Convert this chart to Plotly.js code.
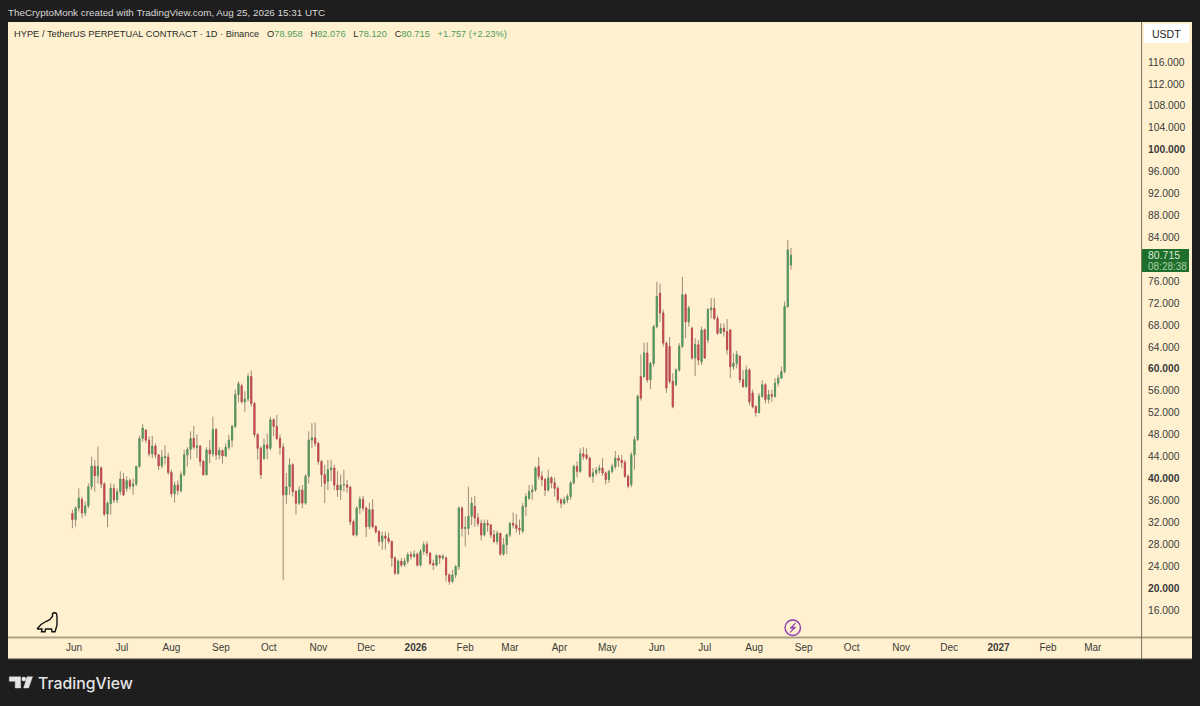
<!DOCTYPE html>
<html>
<head>
<meta charset="utf-8">
<script src="https://cdn.plot.ly/plotly-3.0.1.min.js"></script>
<style>html,body{margin:0;padding:0;background:#1e1e1e}#chart{width:1200px;height:706px}</style>
</head>
<body>
<div id="chart"></div>
<script>
// Candles, one every two days starting 2025-05-31
const firstDay = Date.UTC(2025, 4, 31);
const stepDays = 2;
const open = [33.6,32.5,34.6,36.2,33.7,35.0,38.5,42.2,40.5,41.9,
39.0,33.5,35.4,38.2,36.1,37.6,39.9,38.2,39.6,38.6,
39.0,42.2,47.3,48.8,47.0,44.5,45.9,44.3,42.3,43.8,
43.9,41.1,37.2,38.8,37.8,40.7,44.3,45.3,47.3,45.7,
45.9,43.1,40.7,45.2,44.5,48.9,44.3,45.1,44.1,45.7,
47.0,49.5,55.3,56.9,54.0,54.5,58.6,53.7,48.0,45.5,
43.7,46.1,45.5,50.7,49.5,47.3,45.7,37.0,38.5,42.5,
37.6,35.5,37.9,35.5,40.4,47.0,47.4,46.4,43.1,40.7,
39.5,41.6,41.9,38.8,37.9,38.8,38.8,38.4,32.1,29.7,
34.6,36.2,34.6,31.2,34.3,31.2,30.3,28.5,29.5,29.1,
28.5,25.5,22.7,24.9,24.2,24.9,26.1,25.8,26.2,24.2,
26.7,27.9,26.4,24.5,24.2,25.9,25.5,25.5,22.4,21.2,
22.4,23.9,34.6,30.9,30.9,33.1,34.9,32.8,31.8,29.7,
31.8,31.5,29.7,28.5,30.0,26.2,27.9,29.7,31.8,31.5,
30.9,30.4,34.9,36.4,37.6,37.9,42.2,40.4,39.8,37.9,
40.1,39.2,38.2,36.1,35.5,36.1,36.7,39.2,42.2,41.3,
44.5,44.3,43.7,40.4,41.0,41.5,41.9,41.0,39.8,41.3,
42.2,43.7,43.3,42.9,40.4,38.9,44.3,47.1,58.6,58.6,
62.9,58.0,61.0,67.7,73.8,70.2,64.7,64.1,57.7,57.1,
59.8,64.1,73.5,68.6,67.4,62.0,64.4,61.3,67.1,65.3,
70.8,71.1,69.2,66.5,67.4,66.8,67.1,60.4,61.0,62.3,
58.0,56.8,59.8,55.6,53.1,52.0,55.0,57.1,54.4,55.3,
55.0,57.4,58.3,59.5,71.4,78.958];
const close = [32.5,34.6,36.4,33.7,35.0,38.5,42.3,40.5,42.2,39.0,
33.5,35.5,38.2,36.1,37.6,39.9,37.0,39.6,38.6,39.0,
42.2,47.3,49.2,47.0,44.5,45.9,44.3,42.3,43.9,44.0,
41.1,37.2,38.8,37.8,40.7,44.3,45.3,47.3,45.7,45.9,
43.1,40.7,45.2,44.5,48.9,44.3,45.1,44.1,45.7,47.0,
49.5,55.3,57.3,54.0,54.5,58.6,53.7,48.0,45.5,40.7,
46.1,45.5,50.7,49.5,47.3,45.7,37.0,38.5,42.5,37.6,
35.5,37.9,35.5,40.4,47.0,47.4,46.4,43.1,40.7,39.1,
41.6,41.9,38.8,37.9,38.8,38.9,38.4,32.1,29.7,34.6,
36.2,34.6,31.2,34.3,31.2,30.3,28.5,29.5,29.1,28.5,
25.5,22.7,24.9,24.2,24.9,26.1,25.8,26.2,24.2,26.7,
27.9,26.4,24.5,24.2,25.9,25.5,25.8,22.4,21.2,22.4,
23.9,34.6,30.9,31.0,33.1,35.5,32.8,31.8,29.7,31.8,
31.5,29.7,28.5,30.0,26.2,27.9,29.7,31.8,31.5,30.9,
30.6,34.9,36.7,37.6,37.9,41.9,40.4,39.8,37.9,40.1,
39.2,38.2,36.1,35.5,36.1,36.7,39.2,42.2,41.3,44.5,
44.0,43.7,40.4,41.0,41.5,41.9,41.0,39.8,41.3,42.2,
43.7,43.3,42.9,40.4,38.6,44.3,47.1,55.0,54.7,62.9,
58.0,61.0,67.7,73.2,70.2,64.7,56.5,57.7,53.1,59.8,
64.1,73.5,68.6,71.1,62.0,64.4,61.6,67.1,62.0,70.8,
71.1,69.2,66.5,67.4,66.8,63.5,60.4,61.0,62.6,58.0,
56.8,59.8,54.0,53.1,52.0,55.0,57.1,54.4,55.3,55.0,
57.4,58.3,59.5,71.4,81.7,80.715];
const high = [34.3,34.9,38.2,36.7,35.8,39.1,44.0,43.4,45.8,42.2,
39.3,35.8,39.1,39.0,38.2,41.3,41.0,40.4,40.0,40.0,
42.2,47.8,49.9,49.0,47.7,47.8,46.4,44.5,45.2,46.1,
44.7,41.6,39.4,39.6,41.3,45.2,45.7,48.6,49.6,48.0,
46.1,43.4,45.7,47.0,51.3,49.2,45.7,45.3,46.4,48.0,
49.8,56.2,57.7,57.3,55.9,59.2,59.7,54.0,48.3,45.9,
47.3,48.2,51.2,51.0,51.6,48.0,46.4,41.0,43.7,42.8,
37.9,38.6,38.8,40.8,48.6,50.1,50.2,46.7,43.4,42.5,
43.4,43.4,42.5,41.3,40.7,41.6,39.7,38.7,32.5,34.9,
36.7,36.8,34.9,35.6,36.2,31.5,30.6,30.3,30.3,30.1,
28.7,25.8,25.2,25.5,25.5,26.5,26.7,26.9,26.5,27.1,
28.5,28.5,26.5,25.2,26.2,26.1,26.2,25.8,22.7,23.3,
24.2,34.9,34.9,33.1,38.5,36.6,36.8,33.7,32.5,32.5,
32.5,31.7,30.6,30.5,30.1,29.1,30.0,32.1,33.8,33.5,
32.5,35.5,37.3,38.8,38.8,42.2,43.9,41.3,40.1,41.6,
40.4,40.2,38.6,36.4,36.7,37.2,39.5,42.5,43.1,45.5,
45.7,45.5,44.0,41.9,42.1,42.5,43.7,41.3,41.6,42.7,
45.0,44.3,44.3,43.4,40.7,44.8,47.7,55.3,62.6,64.8,
64.8,61.3,68.0,75.9,75.6,70.8,65.0,65.8,59.2,60.1,
64.7,76.8,73.8,71.5,67.7,65.6,65.3,67.7,67.4,71.1,
72.9,72.9,69.7,68.3,68.3,69.1,67.2,62.9,63.3,62.4,
59.8,60.6,60.1,56.2,53.4,55.6,57.9,57.4,56.2,56.2,
58.3,58.9,60.4,72.3,83.5,82.076];
const low = [30.9,31.2,34.0,32.8,33.1,34.6,37.9,37.6,39.1,38.2,
33.1,31.1,33.4,35.5,35.5,37.0,36.8,37.6,38.0,37.0,
38.6,41.9,46.7,46.4,44.0,43.7,43.7,41.5,41.9,42.5,
40.7,36.6,35.6,37.0,37.4,40.4,42.2,43.5,45.3,43.7,
42.2,40.5,40.5,42.8,44.0,43.4,43.5,42.7,43.9,45.2,
45.7,49.2,53.9,53.7,52.2,54.0,53.1,47.5,43.4,39.9,
43.4,43.5,45.1,47.7,47.0,44.3,21.4,35.4,37.0,36.7,
33.4,35.2,34.6,35.2,39.1,45.5,45.8,42.5,38.5,35.5,
37.9,39.5,37.9,36.6,36.1,37.6,37.4,31.5,29.5,29.4,
33.5,34.0,29.3,30.7,30.9,29.9,27.7,27.0,27.0,28.1,
23.9,22.4,22.4,23.8,23.9,24.4,25.2,25.5,23.9,23.9,
26.1,25.8,24.2,23.3,23.9,24.4,25.2,21.2,20.6,20.9,
21.8,23.3,29.4,27.6,29.7,31.5,31.2,31.2,28.7,29.4,
30.3,29.1,28.2,27.9,25.9,25.9,26.2,29.3,30.9,30.1,
29.7,30.0,33.1,36.1,36.1,37.6,39.8,38.6,36.8,37.6,
38.2,36.7,35.5,34.6,35.2,35.5,36.1,38.9,40.2,41.0,
43.4,43.4,40.1,39.2,40.5,40.9,40.5,38.9,39.2,40.9,
41.7,42.1,41.9,40.1,38.2,38.4,41.6,46.8,54.2,58.3,
57.5,56.3,60.4,67.4,68.5,64.1,55.6,57.3,52.8,56.8,
59.5,63.8,65.6,67.7,61.6,58.7,60.7,60.7,61.8,64.7,
69.2,68.9,66.2,66.5,65.9,62.6,58.3,59.8,60.1,57.4,
56.5,56.5,53.4,52.8,51.3,51.9,54.7,53.7,53.7,54.0,
54.7,56.8,58.2,59.2,71.1,78.12];

const priceTicks = [16,20,24,28,32,36,40,44,48,52,56,60,64,68,72,76,84,88,92,96,100,104,108,112,116];
const boldPrices = [20,40,60,100];
const monthTicks = ['2025-06-01','2025-07-01','2025-08-01','2025-09-01','2025-10-01','2025-11-01','2025-12-01','2026-01-01','2026-02-01','2026-03-01','2026-04-01','2026-05-01','2026-06-01','2026-07-01','2026-08-01','2026-09-01','2026-10-01','2026-11-01','2026-12-01','2027-01-01','2027-02-01','2027-03-01'];
const monthLabels = ['Jun','Jul','Aug','Sep','Oct','Nov','Dec','<b>2026</b>','Feb','Mar','Apr','May','Jun','Jul','Aug','Sep','Oct','Nov','Dec','<b>2027</b>','Feb','Mar'];

const cream = '#FFF1CF', frame = '#1e1e1e', ink = '#2a2a2a';
const upColor = '#4c9a5c', downColor = '#c9434f', wickColor = 'rgba(125,105,92,0.75)';
const sans = '"Liberation Sans", Arimo, sans-serif';

const dates = open.map((_, i) => new Date(firstDay + i * stepDays * 864e5).toISOString().slice(0, 10));

// chrome helpers: picture pixels to paper fractions
const L = 8, R = 58, T = 22, B = 69;
const pw = 1200 - L - R, ph = 706 - T - B;
const fx = p => (p - L) / pw;
const fy = p => 1 - (p - T) / ph;
const rect = (x0, y0, x1, y1, fill, layer) => ({type:'rect', xref:'paper', yref:'paper', x0:fx(x0), x1:fx(x1), y0:fy(y0), y1:fy(y1), fillcolor:fill, line:{width:0}, layer:layer||'above'});
const seg = (x0, y0, x1, y1, color, w) => ({type:'line', xref:'paper', yref:'paper', x0:fx(x0), x1:fx(x1), y0:fy(y0), y1:fy(y1), line:{color:color, width:w}, layer:'above'});
const poly = (pts, stroke, w, fill) => ({type:'path', xref:'paper', yref:'paper', layer:'above', path:'M' + pts.map(p => fx(p[0]) + ',' + fy(p[1])).join(' L') + (fill ? ' Z' : ''), line:{color:stroke, width:w}, fillcolor:fill || 'rgba(0,0,0,0)'});
const txt = (x, y, text, size, color, anchor, weight, family) => ({xref:'paper', yref:'paper', x:fx(x), y:fy(y), text:text, showarrow:false, xanchor:anchor||'left', yanchor:'middle', align:'left', font:{family:family||sans, size:size, color:color, weight:weight||400}, borderpad:0, borderwidth:0});

const g = '#4f9d5e';
const gap = '&nbsp;&nbsp;&nbsp;';
const legendText = 'HYPE / TetherUS PERPETUAL CONTRACT · 1D · Binance'+gap+'O<span style="color:'+g+'">78.958</span>'+gap+'H<span style="color:'+g+'">82.076</span>'+gap+'L<span style="color:'+g+'">78.120</span>'+gap+'C<span style="color:'+g+'">80.715</span>'+gap+'<span style="color:'+g+'">+1.757 (+2.23%)</span>';

const traces = [
  {type:'candlestick', x:dates, open:open, close:close, high:high, low:low, hoverinfo:'skip', showlegend:false,
   increasing:{line:{color:wickColor, width:1}, fillcolor:'rgba(0,0,0,0)'},
   decreasing:{line:{color:wickColor, width:1}, fillcolor:'rgba(0,0,0,0)'}, whiskerwidth:0},
  {type:'candlestick', x:dates, open:open, close:close,
   high:open.map((v,i)=>Math.max(v,close[i])), low:open.map((v,i)=>Math.min(v,close[i])),
   hoverinfo:'skip', showlegend:false,
   increasing:{line:{color:upColor, width:0.7}, fillcolor:upColor},
   decreasing:{line:{color:downColor, width:0.7}, fillcolor:downColor}, whiskerwidth:0}
];

const layout = {
  width:1200, height:706, margin:{l:L, r:R, t:T, b:B, pad:0},
  paper_bgcolor:frame, plot_bgcolor:cream, showlegend:false, dragmode:false, boxmode:'overlay', boxgap:0.5,
  font:{family:sans, color:ink},
  xaxis:{type:'date', range:['2025-04-20 16:00','2027-03-31 20:00'], tickmode:'array', tickvals:monthTicks, ticktext:monthLabels,
    showgrid:false, zeroline:false, showline:false, ticks:'outside', ticklen:1, tickcolor:cream, tickfont:{size:10, color:'#3a3a3a', family:sans}, rangeslider:{visible:false}, fixedrange:true},
  yaxis:{side:'right', range:[11.07,123.3], tickmode:'array', tickvals:priceTicks,
    ticktext:priceTicks.map(v=>{const s=v.toFixed(3);return boldPrices.includes(v)?'<b>'+s+'</b>':s;}),
    showgrid:false, zeroline:false, showline:false, ticks:'outside', ticklen:3, tickcolor:cream, tickfont:{size:10.3, color:'#3a3a3a', family:sans}, fixedrange:true},
  shapes:[
    rect(8,22,1192,659,cream,'below'),
    seg(8,637.6,1192,637.6,'#a9a285',2),
    seg(1141.6,22,1141.6,659,'#77735f',1),
    seg(8,658.8,1192,658.8,'#77735f',1),
    // USDT box
    {type:'rect', xref:'paper', yref:'paper', x0:fx(1144), x1:fx(1189), y0:fy(24), y1:fy(43), fillcolor:'#ffffff', line:{width:0}, layer:'above'},
    // last price tag
    rect(1142,249,1189,272,'#1f6e2b'),
    // dinosaur
    poly([[37,629],[41,624.5],[46,621.5],[50,619.5],[52.5,616.5],[52.5,613.5],[54.5,612.5],[56.5,613.5],[57,617],[57,625],[56,628.5],[55,631.8],[52,631.8],[51.5,629],[45.5,629],[45,631.8],[41.5,631.8],[42,629],[37,629]],'#111111',1.4),
    // lightning badge
    {type:'circle', xref:'paper', yref:'paper', x0:fx(785), x1:fx(800.5), y0:fy(620), y1:fy(635.5), line:{color:'#8e3fb0', width:1.4}, fillcolor:cream, layer:'above'},
    poly([[795.5,623],[790,628.3],[793.5,628],[790,632.5],[795.8,627.3],[792.3,627.5]],'#8e3fb0',0.8,'#8e3fb0'),
    // TradingView logo
    poly([[9.3,676.8],[20.7,676.8],[20.7,688],[15.2,688],[15.2,681.3],[9.3,681.3]],'#e4e4e4',0.4,'#e4e4e4'),
    poly([[27,676.8],[32.6,676.8],[28.6,688],[23.6,688]],'#e4e4e4',0.4,'#e4e4e4'),
    {type:'circle', xref:'paper', yref:'paper', x0:fx(21.6), x1:fx(26), y0:fy(676.8), y1:fy(681.2), line:{width:0}, fillcolor:'#e4e4e4', layer:'above'}
  ],
  annotations:[
    txt(8,13,'TheCryptoMonk created with TradingView.com, Aug 25, 2026 15:31 UTC',9.85,'#d8d8d8'),
    txt(14,34.5,legendText,9.3,'#2a2a2a'),
    txt(1166.5,34,'USDT',10.5,'#222222','center'),
    txt(1148,255.5,'80.715',10.5,'#d8ead8'),
    txt(1148,266,'08:28:38',10,'#a8cfa8'),
    txt(37.5,683,'TradingView',15.8,'#e4e4e4','left',500,'Inter, sans-serif')
  ]
};
Plotly.newPlot('chart', traces, layout, {staticPlot:true, displayModeBar:false});
</script>
</body>
</html>
